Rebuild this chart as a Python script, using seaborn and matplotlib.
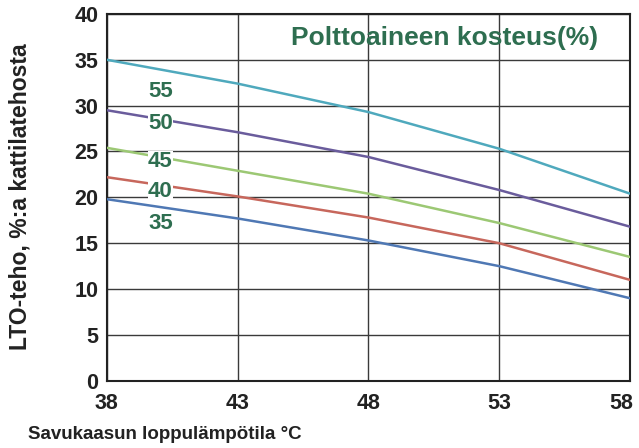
import numpy as np
import pandas as pd
import seaborn as sns
import matplotlib.pyplot as plt
import matplotlib.ticker as ticker
import matplotlib.transforms as mtransforms

# savukaasun loppulämpötila (°C)
temps = [38, 43, 48, 53, 58]
moisture = ['55', '50', '45', '40', '35']

# LTO-teho, % kattilatehosta, one list per fuel moisture
lto_55 = [35.0, 32.4, 29.3, 25.3, 20.4]
lto_50 = [29.5, 27.1, 24.4, 20.8, 16.8]
lto_45 = [25.4, 22.9, 20.4, 17.2, 13.5]
lto_40 = [22.2, 20.1, 17.8, 15.0, 11.0]
lto_35 = [19.8, 17.7, 15.3, 12.5, 9.0]

label_y = [31.5, 28.0, 23.9, 20.6, 17.2]
colors = ['#4fa9bd', '#6a5c9c', '#9cc874', '#c7675c', '#4f78b4']

rows = []
for m, vals in zip(moisture, [lto_55, lto_50, lto_45, lto_40, lto_35]):
    for t, v in zip(temps, vals):
        rows.append({'Temp': t, 'LTO': v, 'Moisture': m})
df = pd.DataFrame(rows)

sns.set_theme(style='white')
plt.rcParams['font.family'] = ['Liberation Sans', 'DejaVu Sans']
plt.rcParams['font.weight'] = 'bold'

fig, ax = plt.subplots(figsize=(6.39, 4.48), dpi=100)
fig.subplots_adjust(left=0.167, right=0.986, bottom=0.150, top=0.969)

sns.lineplot(data=df, x='Temp', y='LTO', hue='Moisture', hue_order=moisture,
             palette=colors, linewidth=1.8, legend=False, ax=ax, zorder=3)

# moisture labels with white boxes breaking the lines
for m, y in zip(moisture, label_y):
    ax.text(40.05, y, m, color='#2e6e50', fontsize=16, fontweight='bold',
            ha='center', va='center', zorder=5,
            bbox=dict(facecolor='white', edgecolor='none', pad=0.3))

ax.text(50.9, 37.4, 'Polttoaineen kosteus(%)', color='#2e6e50', fontsize=19,
        fontweight='bold', ha='center', va='center', zorder=5)

ax.set_xlim(38, 58)
ax.set_ylim(0, 40)
ax.xaxis.set_major_locator(ticker.FixedLocator(temps))
ax.yaxis.set_major_locator(ticker.MultipleLocator(5))
ax.grid(True, color='#3a3a3a', linewidth=1.0)
ax.set_axisbelow(True)
for s in ax.spines.values():
    s.set_color('#222222')
    s.set_linewidth(1.5)

ax.tick_params(axis='both', labelsize=15.5, length=4, width=1, color='#333333',
               labelcolor='#222222', direction='out')
ax.tick_params(axis='x', pad=5)
ax.tick_params(axis='y', pad=2)

# keep the last x tick label inside the canvas
last = ax.get_xticklabels()[-1]
last.set_transform(last.get_transform() +
                   mtransforms.ScaledTranslation(-6 / 72, 0, fig.dpi_scale_trans))

ax.set_xlabel('')
ax.set_ylabel('')
fig.text(0.032, 0.56, 'LTO-teho, %:a kattilatehosta', fontsize=16.5,
         fontweight='bold', color='#222222', rotation=90,
         ha='center', va='center')
fig.text(0.044, 0.03, 'Savukaasun loppulämpötila \u00b0C', fontsize=13.5,
         fontweight='bold', color='#222222', ha='left', va='center')

fig.savefig('out.png', dpi=100)
